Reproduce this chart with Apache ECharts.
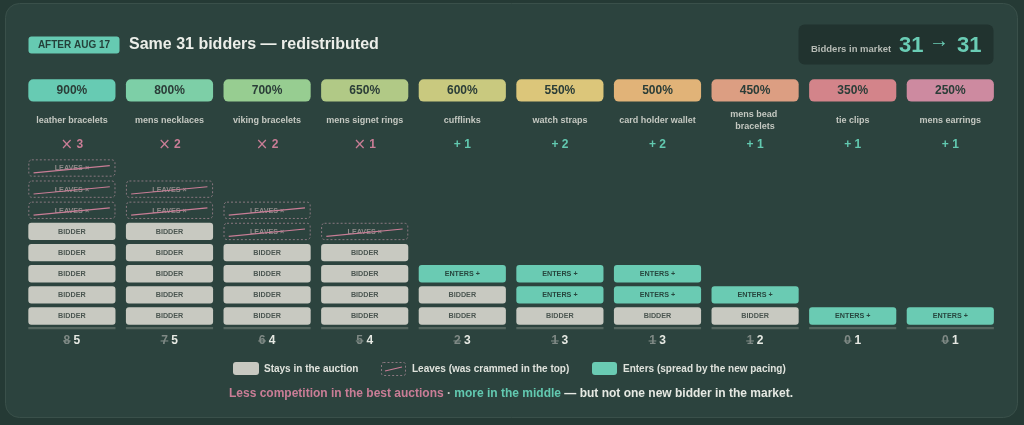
<!DOCTYPE html>
<html>
<head>
<meta charset="utf-8">
<script src="https://cdn.jsdelivr.net/npm/echarts@6/dist/echarts.min.js"></script>
<style>
html,body{margin:0;padding:0;background:#253a35;}
#chart{width:1024px;height:425px;}
</style>
</head>
<body>
<div id="chart"></div>
<script>
// ---- data ----
const categories = ['leather bracelets','mens necklaces','viking bracelets','mens signet rings','cufflinks','watch straps','card holder wallet','mens bead bracelets','tie clips','mens earrings'];
const growthLabels = ['900%','800%','700%','650%','600%','550%','500%','450%','350%','250%'];
const biddersBefore = [8,7,6,5,2,1,1,1,0,0];
const biddersAfter  = [5,5,4,4,3,3,3,2,1,1];
const totalBefore = 31;
const totalAfter = 31;

// ---- styles ----
const FONT = '"Liberation Sans", Arial, Helvetica, sans-serif';
const pillColors = ['#67cbb3','#7dcfa7','#97cd91','#b1c986','#c9c97f','#dcc67a','#e1b378','#dc9e82','#d3848a','#cd8aa0'];
const C = {
  card:'#2c433e', cardStroke:'#3a504a', bidder:'#c8c9c1', bidderText:'#4b5651',
  enter:'#6acbb3', enterText:'#27463e', leaveStroke:'#8a7880', leaveText:'#8f8a89',
  pink:'#c97d96', teal:'#62c9b0', label:'#c4c8c1', white:'#e6e9e3', dim:'#7f8985',
  base:'#55665f', pillText:'#2b3d38'
};
// y-axis tiers (axis values) for column furniture
const TIER = {pill:10.67, label:9.27, change:8.09, base:-0.57, count:-1.18};

// ---- build block data from the arrays ----
const blocks = [];
categories.forEach((c,i)=>{
  const stay = Math.min(biddersBefore[i], biddersAfter[i]);
  for(let r=0;r<stay;r++) blocks.push([i,r,0]);
  for(let r=stay;r<biddersBefore[i];r++) blocks.push([i,r,1]);
  for(let r=stay;r<biddersAfter[i];r++) blocks.push([i,r,2]);
});

function txt(text,x,y,size,fill,opts){
  return {type:'text', style:Object.assign({text:text,x:x,y:y,align:'center',verticalAlign:'middle',
    fontSize:size,fontWeight:'bold',fontFamily:FONT,fill:fill}, opts||{})};
}

function renderBlock(params, api){
  const col = api.value(0), row = api.value(1), kind = api.value(2);
  const c = api.coord([col,row]);
  const band = api.size([1,0])[0];
  const pitch = api.size([0,1])[1];
  const w = band*0.893, h = pitch*0.82;
  const x = c[0]-w/2, y = c[1]-h/2;
  const ch = [];
  if(kind===0){
    ch.push({type:'rect',shape:{x:x,y:y,width:w,height:h,r:3},style:{fill:C.bidder}});
    ch.push(txt('BIDDER',c[0],c[1]+0.5,7.2,C.bidderText));
  } else if(kind===2){
    ch.push({type:'rect',shape:{x:x,y:y,width:w,height:h,r:3},style:{fill:C.enter}});
    ch.push(txt('ENTERS +',c[0],c[1]+0.5,7.2,C.enterText));
  } else {
    ch.push({type:'rect',shape:{x:x+0.5,y:y+0.5,width:w-1,height:h-1,r:3},style:{fill:'none',stroke:C.leaveStroke,lineWidth:1,lineDash:[2,2]}});
    ch.push(txt('LEAVES ×',c[0],c[1]+0.5,7.2,C.leaveText));
    ch.push({type:'line',shape:{x1:x+w*0.06,y1:y+h*0.78,x2:x+w*0.935,y2:y+h*0.36},style:{stroke:C.pink,lineWidth:1.2}});
  }
  return {type:'group',children:ch};
}

function renderColumn(params, api){
  const i = api.value(0);
  const band = api.size([1,0])[0];
  const w = band*0.893;
  const cx = api.coord([i,0])[0];
  const yp = api.coord([i,TIER.pill])[1];
  const yl = api.coord([i,TIER.label])[1];
  const yc = api.coord([i,TIER.change])[1];
  const yb = api.coord([i,TIER.base])[1];
  const yn = api.coord([i,TIER.count])[1];
  const before = biddersBefore[i], after = biddersAfter[i];
  const ch = [];
  ch.push({type:'rect',shape:{x:cx-w/2,y:yp-11.2,width:w,height:22.4,r:5},style:{fill:pillColors[i]}});
  ch.push(txt(growthLabels[i],cx,yp+0.5,12,C.pillText));
  ch.push(txt(categories[i],cx,yl,9,C.label,{width:82,overflow:'break',lineHeight:12}));
  const diff = after-before;
  if(diff<0){
    ch.push(txt('{x|×} {n|'+(-diff)+'}',cx,yc,12,C.pink,{rich:{
      x:{fontSize:15,fontWeight:'normal',fontFamily:'"DejaVu Sans", sans-serif',fill:C.pink},
      n:{fontSize:12,fontWeight:'bold',fontFamily:FONT,fill:C.pink}}}));
  } else {
    ch.push(txt('+ '+diff,cx,yc,12,C.teal));
  }
  ch.push({type:'rect',shape:{x:cx-w/2,y:yb-1,width:w,height:2.2},style:{fill:C.base}});
  const dw = 6.7;
  ch.push(txt(String(before),cx-1.7,yn,12,C.dim,{align:'right'}));
  ch.push({type:'line',shape:{x1:cx-1.7-dw-0.5,y1:yn,x2:cx-1.2,y2:yn},style:{stroke:C.dim,lineWidth:1.1}});
  ch.push(txt(String(after),cx+1.7,yn,12,C.white,{align:'left'}));
  return {type:'group',children:ch};
}

const chart = echarts.init(document.getElementById('chart'), null, {renderer:'canvas'});
chart.setOption({
  backgroundColor:'#253a35',
  animation:false,
  grid:{left:23.1,right:24.9,top:62.3,bottom:66.7},
  xAxis:{type:'category',data:categories,show:false,boundaryGap:true},
  yAxis:{type:'value',min:-2,max:12,show:false},
  graphic:[
    {type:'rect',z:-10,shape:{x:5.5,y:3.5,width:1012,height:414,r:14},style:{fill:C.card,stroke:C.cardStroke,lineWidth:1}},
    {type:'rect',shape:{x:28.5,y:36.5,width:91,height:17,r:3},style:{fill:'#66cab2'}},
    {type:'text',style:{text:'AFTER AUG 17',x:74,y:45.5,align:'center',verticalAlign:'middle',fontSize:10,fontWeight:'bold',fontFamily:FONT,fill:'#24413a'}},
    {type:'text',style:{text:'Same 31 bidders — redistributed',x:129,y:45,align:'left',verticalAlign:'middle',fontSize:16,fontWeight:'bold',fontFamily:FONT,fill:'#eceee9'}},
    {type:'rect',shape:{x:798.5,y:24.5,width:195,height:40,r:6},style:{fill:'#21332f'}},
    {type:'text',style:{text:'Bidders in market',x:811,y:49.5,align:'left',verticalAlign:'middle',fontSize:9.5,fontWeight:'bold',fontFamily:FONT,fill:'#b6bbb5'}},
    {type:'text',style:{text:String(totalBefore),x:899,y:45.5,align:'left',verticalAlign:'middle',fontSize:22,fontWeight:'bold',fontFamily:FONT,fill:'#6acdb5'}},
    {type:'text',style:{text:'→',x:939,y:41,align:'center',verticalAlign:'middle',fontSize:20,fontWeight:'bold',fontFamily:FONT,fill:'#6acdb5'}},
    {type:'text',style:{text:String(totalAfter),x:957,y:45.5,align:'left',verticalAlign:'middle',fontSize:22,fontWeight:'bold',fontFamily:FONT,fill:'#6acdb5'}},
    // legend
    {type:'rect',shape:{x:233,y:362,width:26,height:13,r:3},style:{fill:C.bidder}},
    {type:'text',style:{text:'Stays in the auction',x:264,y:369,align:'left',verticalAlign:'middle',fontSize:10,fontWeight:'bold',fontFamily:FONT,fill:'#dfe2dc'}},
    {type:'rect',shape:{x:381.5,y:362.5,width:24,height:13,r:2},style:{fill:'none',stroke:C.leaveStroke,lineWidth:1,lineDash:[2,2]}},
    {type:'line',shape:{x1:385,y1:371,x2:402,y2:367},style:{stroke:C.pink,lineWidth:1.2}},
    {type:'text',style:{text:'Leaves (was crammed in the top)',x:412,y:369,align:'left',verticalAlign:'middle',fontSize:10,fontWeight:'bold',fontFamily:FONT,fill:'#dfe2dc'}},
    {type:'rect',shape:{x:592,y:362,width:25,height:13,r:3},style:{fill:C.enter}},
    {type:'text',style:{text:'Enters (spread by the new pacing)',x:623,y:369,align:'left',verticalAlign:'middle',fontSize:10,fontWeight:'bold',fontFamily:FONT,fill:'#dfe2dc'}},
    // footnote
    {type:'text',style:{
      text:'{p|Less competition in the best auctions}{d| · }{t|more in the middle}{w| — but not one new bidder in the market.}',
      x:511,y:394,align:'center',verticalAlign:'middle',fontSize:12,fontWeight:'bold',fontFamily:FONT,
      rich:{
        p:{fill:C.pink,fontSize:12,fontWeight:'bold',fontFamily:FONT},
        d:{fill:'#c4c8c1',fontSize:12,fontWeight:'bold',fontFamily:FONT},
        t:{fill:C.teal,fontSize:12,fontWeight:'bold',fontFamily:FONT},
        w:{fill:'#e6e9e3',fontSize:12,fontWeight:'bold',fontFamily:FONT}
      }}}
  ],
  series:[
    {type:'custom',name:'columns',renderItem:renderColumn,data:categories.map((c,i)=>[i,0]),encode:{x:0,y:1},silent:true},
    {type:'custom',name:'blocks',renderItem:renderBlock,data:blocks,encode:{x:0,y:1},silent:true}
  ]
});
</script>
</body>
</html>
